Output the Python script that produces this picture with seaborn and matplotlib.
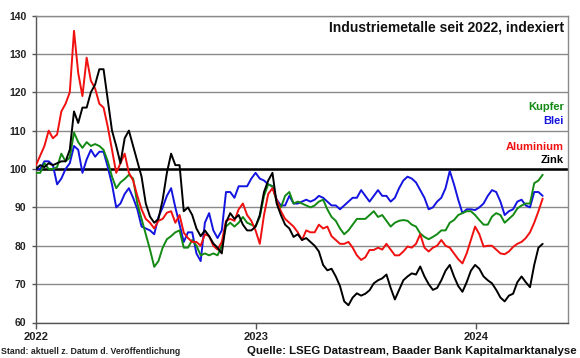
import numpy as np
import pandas as pd
import matplotlib
matplotlib.use("Agg")
import matplotlib.pyplot as plt
import seaborn as sns

# ---- data (weekly readings, index 2022 = 100) ----
dates = pd.date_range("2022-01-01", periods=121, freq="7D")

kupfer = [99, 99, 101.5, 100, 100, 100.5, 104, 102, 103, 109.5, 107, 105.5, 107, 106, 106.5, 106, 105, 102, 98, 95,
          96.5, 97.4, 98.5, 97.5, 91, 87, 83, 79, 74.5, 76, 79.5, 81.7, 82.5, 83.5, 84, 79.5, 79.5, 81.5, 80, 77.5,
          78, 77.5, 78, 77.5, 80, 85, 86, 85, 86, 87.5, 86, 85.5, 85, 87.5, 93, 96, 95.5, 91.5, 90, 93,
          94, 91, 91.5, 91, 90.5, 90, 90.5, 91.5, 92, 89.5, 87.5, 86.5, 84.5, 83, 84, 85.5, 87, 87, 87, 88,
          89, 87.5, 88, 86.5, 85, 86, 86.5, 86.7, 86.5, 85.5, 85, 83.2, 82.3, 81.7, 82.3, 83, 84, 84, 86, 86.7,
          88, 88.5, 89, 89, 88, 86.7, 85.5, 85.5, 87.6, 88.5, 88, 86, 87, 88, 89.7, 90.5, 91, 91, 96.3, 97,
          98.5]

blei = [100, 100, 102, 102, 101, 96, 97.5, 100, 101.5, 106, 105, 99, 102.5, 105, 103.2, 104.5, 104.5, 100.5, 96, 90,
        91, 93.5, 95, 92.5, 89.5, 85, 84.5, 84, 83, 87.5, 90, 93, 95, 90, 85.5, 81, 83.5, 83.5, 78, 76,
        86, 88.5, 84, 82, 84, 94, 94, 92.5, 95.5, 95.5, 95.5, 97.5, 99, 97.5, 97, 96, 95.5, 92, 90.5, 90.5,
        93, 91, 91, 91.5, 92, 91.5, 92, 93, 92.5, 91.5, 90.5, 90.5, 89.5, 90.5, 91.5, 92.5, 92.5, 94.5, 93, 91.5,
        93, 94.5, 93, 93, 91.5, 92.5, 95, 97, 98, 97.5, 96.5, 94.5, 92.5, 89.5, 90, 91.5, 92.5, 95, 99.5, 96,
        92, 88.5, 89.5, 89.5, 89.3, 90, 91, 93, 94.5, 94, 91.5, 88, 89, 89.5, 91.5, 92, 90.5, 90, 94, 94,
        93]

aluminium = [101, 103.5, 106, 110, 108, 109, 115, 117, 120, 136, 125, 119, 129, 123, 121, 117, 116, 111, 105, 99,
             101.5, 104, 99, 97, 93, 89.5, 87, 86, 84.5, 86.5, 87, 88.6, 89, 86, 88, 83.4, 82, 81, 81, 80,
             83, 82.5, 80, 79, 81, 86.5, 87, 86.5, 89.5, 91, 88, 86.5, 84, 80.5, 88, 93.5, 95, 92, 89, 87,
             86, 85, 83.5, 81.5, 84, 83.5, 83.5, 85.5, 84.5, 85, 82.5, 81.5, 80.5, 80.5, 81, 79.5, 77.5, 76.3, 77, 78.9,
             78.9, 79.5, 79, 80.5, 79, 77.5, 77.5, 78.5, 79.8, 79.5, 80.5, 83, 79.5, 78.5, 79.5, 80, 81.5, 80, 79.5, 78,
             76.5, 75.4, 78, 81.5, 85, 83, 79.8, 80, 80, 79, 78, 77.8, 78.5, 79.7, 80.5, 81, 82, 83.5, 86, 89,
             92.3]

zink = [100, 101, 100.5, 101.5, 101, 101.5, 102, 102, 105, 115, 112, 116, 116, 120, 122, 126, 126, 118, 110, 106,
        101.5, 108, 110, 106, 102, 98, 91, 87.6, 86, 87, 92, 99, 104, 101, 101, 89, 90, 88, 84.5, 82.5,
        84, 82.5, 80.6, 79.5, 78, 86, 88.5, 87, 88, 85.5, 84, 84, 85, 88, 94, 97, 99, 91, 88, 85.5,
        84.5, 82.3, 83, 81.5, 82, 81, 80, 78.5, 75, 73.6, 74, 72, 69.5, 65.5, 64.5, 66.5, 67.6, 67, 67.5, 68.4,
        70.2, 71, 71.5, 72.5, 69, 66, 68.5, 71, 72, 72.8, 72.5, 74.6, 72, 70, 68.5, 69, 71, 73.5, 75, 72,
        69.5, 68, 70.5, 73.5, 75, 74, 72, 71, 70.2, 68.5, 66.5, 65.5, 67, 67.5, 70.5, 72, 70.5, 69.2, 75, 79.5,
        80.5]

metals = ["Blei", "Kupfer", "Aluminium", "Zink"]
colors = {"Kupfer": "#138a13", "Blei": "#1414e0", "Aluminium": "#f01010", "Zink": "#000000"}
year_ticks = ["2022", "2023", "2024"]

df = pd.DataFrame({"Datum": dates, "Kupfer": kupfer, "Blei": blei,
                   "Aluminium": aluminium, "Zink": zink})
long = df.melt(id_vars="Datum", value_vars=metals, var_name="Metall", value_name="Wert")

sns.set_theme(style="white")
plt.rcParams['font.family'] = ['Liberation Sans', 'DejaVu Sans']

W, H = 580, 358
fig = plt.figure(figsize=(W / 100, H / 100), dpi=100)
ax = fig.add_axes([36 / W, 1 - 322.5 / H, (568 - 36) / W, (322.5 - 15.5) / H])

sns.lineplot(data=long, x="Datum", y="Wert", hue="Metall", hue_order=metals,
             palette=colors, linewidth=1.4, ax=ax, legend=False, zorder=3)

ax.set_ylim(60, 140)
ax.set_yticks(range(60, 141, 10))
ax.set_xlim(pd.Timestamp("2022-01-01"), pd.Timestamp("2024-06-01"))
ax.set_xticks([pd.Timestamp(f"{y}-01-01") for y in year_ticks])
ax.set_xticklabels(year_ticks)
ax.set_xlabel("")
ax.set_ylabel("")

ax.yaxis.grid(True, color="#8a8a8a", linewidth=1.0, zorder=1)
ax.xaxis.grid(False)
ax.axhline(100, color="black", linewidth=1.8, zorder=2)

for s in ax.spines.values():
    s.set_color("#8a8a8a")
    s.set_linewidth(1.0)
ax.spines["left"].set_color("#555555")
ax.spines["bottom"].set_color("#555555")

ax.tick_params(axis="y", length=3, width=1, color="#555555", pad=4, labelsize=7.5, left=True)
ax.tick_params(axis="x", length=4, width=1, color="#555555", pad=3, labelsize=8, bottom=True)
for lab in ax.get_yticklabels() + ax.get_xticklabels():
    lab.set_fontweight("bold")
    lab.set_color("#222222")

fig.text(564 / W, 1 - 27.5 / H, "Industriemetalle seit 2022, indexiert", ha="right", va="center",
         fontsize=10, fontweight="bold", color="#111111")

labels = [("Kupfer", 106.7), ("Blei", 121.5), ("Aluminium", 146.7), ("Zink", 160)]
for name, yp in labels:
    fig.text(564 / W, 1 - yp / H, name, ha="right", va="center", fontsize=8,
             fontweight="bold", color=colors[name])

fig.text(1 / W, 1 - 351.5 / H, "Stand: aktuell z. Datum d. Veröffentlichung", ha="left", va="center",
         fontsize=6.3, fontweight="bold", color="#222222")
fig.text(577 / W, 1 - 351 / H, "Quelle: LSEG Datastream, Baader Bank Kapitalmarktanalyse", ha="right",
         va="center", fontsize=8.2, fontweight="bold", color="#111111")

fig.savefig("out.png", dpi=100)
